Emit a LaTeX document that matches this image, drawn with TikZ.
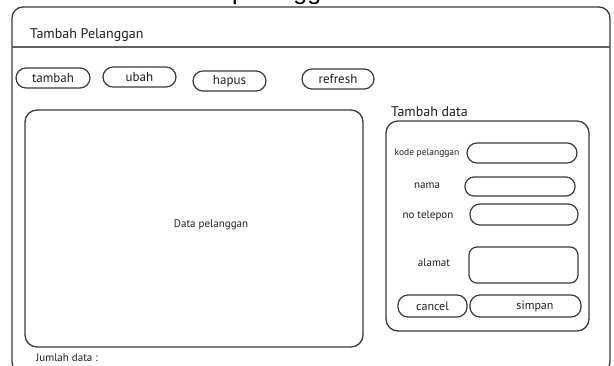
\documentclass[tikz,border=0pt]{standalone}
\usepackage{fontspec}
\setmainfont{PT Sans}
\newfontfamily\topfont{Liberation Sans}
\definecolor{ln}{HTML}{3A3A3A}
\definecolor{tx}{HTML}{1E1E1E}
\tikzset{
  frameline/.style={draw=ln, line width=1.3pt},
  pill/.style={draw=ln, line width=1.2pt, rounded corners=10pt, inner sep=0pt,
    text=tx, font=\fontsize{13}{13}\selectfont},
  field/.style={draw=ln, line width=1.2pt, rounded corners=9pt, inner sep=0pt},
  bigbox/.style={draw=ln, line width=1.3pt, rounded corners=12pt, inner sep=0pt},
  lbl/.style={text=tx, inner sep=0pt, font=\fontsize{11}{11}\selectfont},
}
\begin{document}
\begin{tikzpicture}[x=1pt,y=-1pt]
\useasboundingbox (0,0) rectangle (614,365);
\begin{scope}
\clip (0,0) rectangle (614,365);
% cut-off title above the window (only its descenders show)
\node[anchor=base west, inner sep=0pt, text=black, font=\topfont\fontsize{25}{25}\selectfont] (toptitle) at (232,-1) {pelanggan};
% window frame
\draw[frameline, rounded corners=11pt] (12,7) rectangle (610,373);
\end{scope}
\draw[draw=ln!80, line width=1.6pt] (12,47) -- (610,47);
\node[anchor=base west, inner sep=0pt, text=tx, font=\fontsize{14}{14}\selectfont] (wtitle) at (30,38) {Tambah Pelanggan};
% buttons
\node[pill, minimum width=74pt, minimum height=20pt] (tambah) at (53,78) {tambah};
\node[pill, minimum width=73pt, minimum height=20pt] (ubah) at (139.5,77) {ubah};
\node[pill, minimum width=73pt, minimum height=20pt] (hapus) at (229.5,81) {hapus};
\node[pill, minimum width=72pt, minimum height=20pt] (refresh) at (338,79) {refresh};
% data table area
\node[bigbox, minimum width=338pt, minimum height=237pt] (databox) at (194,228.5) {};
\node[lbl] (datalbl) at (211,225) {Data pelanggan};
\node[lbl, anchor=west] (jumlah) at (36,358) {Jumlah data :};
% right panel
\node[anchor=west, inner sep=0pt, text=tx, font=\fontsize{14}{14}\selectfont] (tdlbl) at (391,112) {Tambah data};
\node[bigbox, minimum width=203pt, minimum height=210pt] (panel) at (487.5,226) {};
\node[lbl, font=\fontsize{9.5}{9.5}\selectfont] (kodelbl) at (427,153) {kode pelanggan};
\node[field, rounded corners=10pt, minimum width=110pt, minimum height=20pt] (kode) at (522,153) {};
\node[lbl] (namalbl) at (427,186) {nama};
\node[field, minimum width=110pt, minimum height=19pt] (nama) at (520,186.5) {};
\node[lbl] (telplbl) at (428,216) {no telepon};
\node[field, rounded corners=10pt, minimum width=108pt, minimum height=21pt] (telp) at (524,214.5) {};
\node[lbl] (alamatlbl) at (434,263) {alamat};
\node[field, rounded corners=8pt, minimum width=109pt, minimum height=36pt] (alamat) at (523.5,265) {};
\node[pill, font=\fontsize{12}{12}\selectfont, minimum width=69pt, minimum height=22pt] (cancel) at (432.5,306) {cancel};
\node[pill, minimum width=111pt, minimum height=22pt] (simpan) at (525.5,306) {};
\node[lbl, font=\fontsize{12}{12}\selectfont] (simpanlbl) at (535,306) {simpan};
\end{tikzpicture}
\end{document}
